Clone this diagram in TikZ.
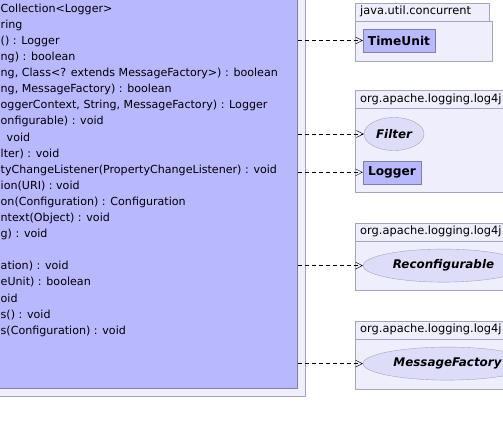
\documentclass[tikz,border=0pt]{standalone}
\usepackage{fontspec}
\usetikzlibrary{arrows.meta,positioning,shapes.geometric}
\newfontfamily\umlfont{DejaVu Sans}
\definecolor{classfill}{RGB}{184,184,255}
\definecolor{pkgfill}{RGB}{238,238,252}
\definecolor{ifacefill}{RGB}{221,221,250}
\definecolor{pkgline}{RGB}{165,165,185}
\definecolor{classline}{RGB}{128,128,165}
\tikzset{
  pkgtab/.style={draw=pkgline, fill=pkgfill, anchor=north west, inner xsep=5pt, inner ysep=0pt,
    minimum height=18pt, text height=8.5pt, text depth=2.5pt, align=left, font=\umlfont\fontsize{11.4}{13}\selectfont},
  pkgbody/.style={draw=pkgline, fill=pkgfill, anchor=north west, inner sep=0pt},
  umlclass/.style={draw=classline, fill=classfill, inner sep=0pt, minimum height=23pt,
    font=\umlfont\bfseries\fontsize{12.2}{14}\selectfont},
  umliface/.style={ellipse, draw=pkgline, fill=ifacefill, inner sep=0pt, minimum height=33pt,
    font=\umlfont\bfseries\itshape\fontsize{11.9}{14}\selectfont},
  member/.style={anchor=base west, inner sep=0pt, font=\umlfont\fontsize{11.1}{13}\selectfont},
  dep/.style={dash pattern=on 4.5pt off 2.5pt, -{Straight Barb[length=7pt,width=7pt]}}
}

\begin{document}
\begin{tikzpicture}[x=1pt,y=-1pt]
	\useasboundingbox[fill=white] (0,0) rectangle (503,434);
	
	% the configuration class and its package
	\node[pkgbody, anchor=south east, minimum width=340pt, minimum height=420pt] (corepkg) at (305.7,396.5) {};
	\node[draw=classline, fill=classfill, anchor=south east, inner sep=0pt,
	      minimum width=330pt, minimum height=410pt] (cfg) at (297.7,388) {};
	\foreach \txt [count=\i] in {Collection<Logger>, ring, () : Logger, ng) : boolean,
		{ng, Class<? extends MessageFactory>) : boolean}, {ng, MessageFactory) : boolean},
		{oggerContext, String, MessageFactory) : Logger}, onfigurable) : void,
		\hspace*{6pt}void, lter) : void, tyChangeListener(PropertyChangeListener) : void,
		ion(URI) : void, on(Configuration) : Configuration, ntext(Object) : void,
		g) : void, {}, ation) : void, eUnit) : boolean, oid, s() : void,
		s(Configuration) : void}
		\node[member] (m\i) at (0.5,{12.2+16.1*(\i-1)}) {\txt};
	
	% java.util.concurrent
	\node[pkgtab, text width=124pt] (tabconc) at (355,2.7) {java.util.concurrent};
	\node[pkgbody, minimum width=136.7pt, minimum height=39.7pt] (pkgconc) at (tabconc.south west) {};
	\node[umlclass, minimum width=72pt] (TimeUnit) at (399,40.5) {TimeUnit};
	
	% org.apache.logging.log4j
	\node[pkgtab, text width=160pt] (tablog) at (355,90) {org.apache.logging.log4j};
	\node[pkgbody, minimum width=170pt, minimum height=84pt] (pkglog) at (tablog.south west) {};
	\node[umliface, minimum width=60pt] (Filter) at (394,134) {Filter};
	\node[umlclass, minimum width=58pt] (Logger) at (392,172.3) {Logger};
	
	\node[pkgtab, text width=160pt] (tabrecf) at (355,222.7) {org.apache.logging.log4j};
	\node[pkgbody, minimum width=170pt, minimum height=49.3pt] (pkgrecf) at (tabrecf.south west) {};
	\node[umliface, minimum width=161pt] (Reconf) at (443.5,265.6) {Reconfigurable};
	
	\node[pkgtab, text width=160pt] (tabmsg) at (355,320.7) {org.apache.logging.log4j};
	\node[pkgbody, minimum width=170pt, minimum height=49.6pt] (pkgmsg) at (tabmsg.south west) {};
	\node[umliface, minimum width=169pt] (MsgFactory) at (447.5,363.6) {MessageFactory};
	
	% dependencies
	\draw[dep] (cfg.east |- TimeUnit.west) -- (TimeUnit.west);
	\draw[dep] (cfg.east |- Filter.west) -- (Filter.west);
	\draw[dep] (cfg.east |- Logger.west) -- (Logger.west);
	\draw[dep] (cfg.east |- Reconf.west) -- (Reconf.west);
	\draw[dep] (cfg.east |- MsgFactory.west) -- (MsgFactory.west);
\end{tikzpicture}
\end{document}
